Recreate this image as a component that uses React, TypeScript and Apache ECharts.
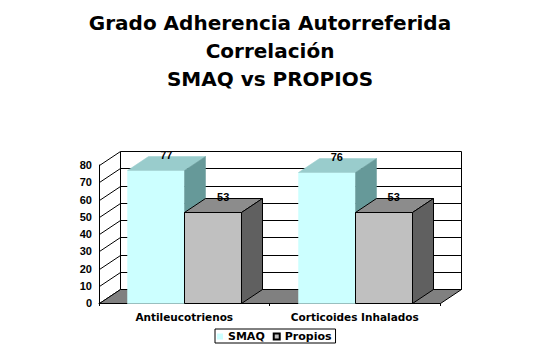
import React, { useEffect, useRef } from "react";
import * as echarts from "echarts";

const titleLines = ["Grado Adherencia Autorreferida", "Correlación", "SMAQ vs PROPIOS"];
const categories = ["Antileucotrienos", "Corticoides Inhalados"];
const seriesNames = ["SMAQ", "Propios"];
const smaqValues = [77, 76];
const propiosValues = [53, 53];
const yTicks = [0, 10, 20, 30, 40, 50, 60, 70, 80];

const DX = 21;
const DY = -14;
const px = (v: number) => Math.round(v) + 0.5;

const faceColors = [
  { front: "#CCFFFF", top: "#99CCCC", side: "#669999", stroke: null as string | null },
  { front: "#C0C0C0", top: "#8C8C8C", side: "#606060", stroke: "#000000" },
];

function makeBarRender(si: number) {
  return (params: any, api: any) => {
    const cat = api.value(0);
    const val = api.value(1);
    const [xc, yTop] = api.coord([cat, val]);
    const y0 = api.coord([cat, 0])[1];
    const band = api.size([1, 0])[0];
    const w = band / 3;
    const x0 = si === 0 ? xc - w : xc;
    const c = faceColors[si];
    const stroke = c.stroke;
    const st = (fill: string) =>
      stroke ? { fill, stroke, lineWidth: 1 } : { fill, stroke: fill, lineWidth: 0.5 };
    const L = px(x0), R = px(x0 + w), T = px(yTop), B = px(y0);
    return {
      type: "group",
      children: [
        { type: "rect", shape: { x: L, y: T, width: R - L, height: B - T }, style: st(c.front) },
        {
          type: "polygon",
          shape: { points: [[L, T], [R, T], [R + DX, T + DY], [L + DX, T + DY]] },
          style: st(c.top),
        },
        {
          type: "polygon",
          shape: { points: [[R, T], [R + DX, T + DY], [R + DX, B + DY], [R, B]] },
          style: st(c.side),
        },
        {
          type: "text",
          style: {
            text: String(val),
            x: x0 + w / 2 + DX / 2,
            y: yTop + DY / 2 - 8,
            align: "center",
            verticalAlign: "middle",
            fill: "#000",
            font: "bold 11px 'Liberation Sans', Arial, sans-serif",
          },
        },
      ],
    };
  };
}

export default function App() {
  const ref = useRef<HTMLDivElement>(null);
  useEffect(() => {
    if (!ref.current) return;
    const chart = echarts.init(ref.current, null, { renderer: "svg" });
    const option: any = {
      animation: false,
      backgroundColor: "#ffffff",
      title: titleLines.map((t, i) => ({
        text: t,
        left: "center",
        top: 9 + 28 * i,
        padding: 0,
        textStyle: {
          fontFamily: "DejaVu Sans",
          fontWeight: "bold",
          fontSize: 20,
          lineHeight: 28,
          color: "#000",
        },
      })),
      legend: {
        data: seriesNames,
        left: 215,
        top: 329,
        icon: "rect",
        itemWidth: 6,
        itemHeight: 6,
        itemGap: 8,
        borderColor: "#000",
        borderWidth: 1,
        padding: [2, 4, 1, 2],
        textStyle: {
          fontFamily: "DejaVu Sans",
          fontWeight: "bold",
          fontSize: 11,
          color: "#000",
        },
      },
      grid: { left: 99, right: 100, top: 165, bottom: 56 },
      xAxis: {
        type: "category",
        data: categories,
        axisLine: { show: true, lineStyle: { color: "#000", width: 1 } },
        axisTick: { show: true, length: 3, lineStyle: { color: "#000" } },
        axisLabel: {
          margin: 8,
          color: "#000",
          fontFamily: "DejaVu Sans",
          fontWeight: "bold",
          fontSize: 10.5,
        },
        splitLine: { show: false },
      },
      yAxis: {
        type: "value",
        min: yTicks[0],
        max: yTicks[yTicks.length - 1],
        interval: yTicks[1] - yTicks[0],
        axisLine: { show: true, lineStyle: { color: "#000", width: 1 } },
        axisTick: { show: false },
        axisLabel: {
          margin: 7,
          color: "#000",
          fontFamily: "'Liberation Sans', Arial, sans-serif",
          fontWeight: "bold",
          fontSize: 11,
        },
        splitLine: { show: false },
      },
      series: [
        {
          name: "walls",
          type: "custom",
          clip: false,
          z: 1,
          data: yTicks.map((v) => [0, v]),
          renderItem: (params: any, api: any) => {
            const cs = params.coordSys;
            const y = api.coord([0, api.value(1)])[1];
            const x0 = cs.x;
            const x1 = cs.x + cs.width;
            const ls = { stroke: "#000", lineWidth: 1 };
            const children: any[] = [
              { type: "line", shape: { x1: px(x0), y1: px(y), x2: px(x0) + DX, y2: px(y) + DY }, style: ls },
              { type: "line", shape: { x1: px(x0) + DX, y1: px(y) + DY, x2: px(x1) + DX, y2: px(y) + DY }, style: ls },
            ];
            if (params.dataIndex === 0) {
              const yb = cs.y + cs.height;
              const yt = cs.y;
              children.push(
                { type: "line", shape: { x1: px(x0) + DX, y1: px(yb) + DY, x2: px(x0) + DX, y2: px(yt) + DY }, style: ls },
                { type: "line", shape: { x1: px(x1) + DX, y1: px(yb) + DY, x2: px(x1) + DX, y2: px(yt) + DY }, style: ls }
              );
            }
            return { type: "group", children };
          },
        },
        {
          name: "floor",
          type: "custom",
          clip: false,
          z: 2,
          data: [[0, 0]],
          renderItem: (params: any, api: any) => {
            const cs = params.coordSys;
            const y = px(api.coord([0, 0])[1]);
            const a = px(cs.x);
            const b = px(cs.x + cs.width);
            return {
              type: "polygon",
              shape: { points: [[a, y], [b, y], [b + DX, y + DY], [a + DX, y + DY]] },
              style: { fill: "#808080", stroke: "#000", lineWidth: 1 },
            };
          },
        },
        {
          name: seriesNames[0],
          type: "custom",
          clip: false,
          z: 3,
          itemStyle: { color: faceColors[0].front },
          data: categories.map((c, i) => [i, smaqValues[i]]),
          renderItem: makeBarRender(0),
        },
        {
          name: seriesNames[1],
          type: "custom",
          clip: false,
          z: 3,
          itemStyle: { color: faceColors[1].front, borderColor: "#000", borderWidth: 1 },
          data: categories.map((c, i) => [i, propiosValues[i]]),
          renderItem: makeBarRender(1),
        },
      ],
    };
    chart.setOption(option);
    return () => chart.dispose();
  }, []);
  return (
    <div
      ref={ref}
      style={{ position: "absolute", left: 0, top: 0, width: 540, height: 359, background: "#fff" }}
    />
  );
}
